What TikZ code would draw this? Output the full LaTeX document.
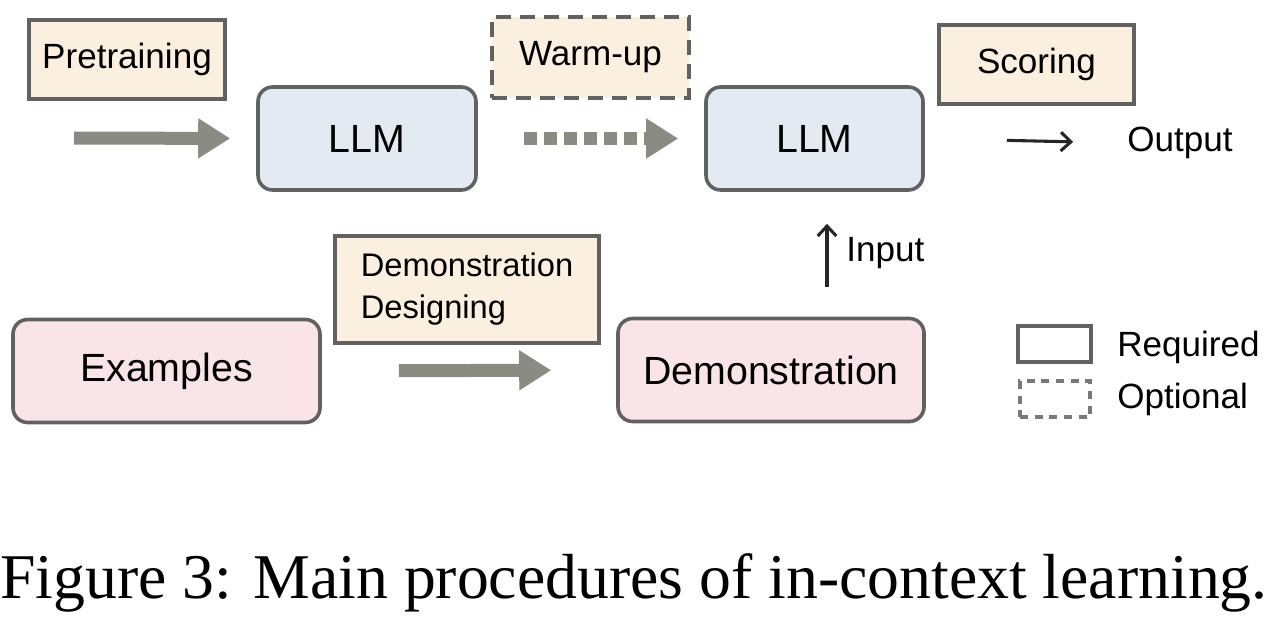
\documentclass[tikz,border=0pt]{standalone}
\usepackage{fontspec}
\setmainfont{Liberation Sans}
\newfontfamily\capfont{Liberation Serif}
\usetikzlibrary{arrows.meta,positioning}
\definecolor{boxline}{HTML}{616161}
\definecolor{stepfill}{HTML}{FBF0DF}
\definecolor{llmfill}{HTML}{E3EAF2}
\definecolor{datafill}{HTML}{F9E4EA}
\definecolor{flowgray}{HTML}{8A8B83}
\begin{document}
\begin{tikzpicture}[x=0.75pt, y=-0.75pt,
  lbl/.style={draw=boxline, line width=2.7pt, fill=stepfill, inner sep=0pt, font=\fontsize{26.3}{31.5}\selectfont},
  fat/.style={draw=flowgray, line width=9.75pt, -{Triangle[length=24pt, width=28.5pt]}},
  thin/.style={draw=black!85, line width=2.3pt, -{Straight Barb[length=7.5pt, width=14pt, line width=2.3pt]}}]
\tikzstyle{blk}=[draw=boxline, line width=2.7pt, rounded corners=11pt, inner sep=0pt, font=\fontsize{29.5}{34}\selectfont]
\useasboundingbox (0,0) rectangle (1280,617);
% top row
\node[lbl, minimum width=147pt, minimum height=59.25pt] (pre) at (127,59.5) {Pretraining};
\node[blk, fill=llmfill, minimum width=163.5pt, minimum height=77.25pt] (llmA) at (367,138.5) {LLM};
\node[lbl, dash pattern=on 11pt off 7pt, minimum width=147.75pt, minimum height=60.75pt] (warm) at (590.5,57.5) {Warm-up};
\node[blk, fill=llmfill, minimum width=162.75pt, minimum height=77.25pt] (llmB) at (814.5,138.5) {LLM};
\node[lbl, minimum width=146.25pt, minimum height=59.25pt] (score) at (1036.5,64.5) {Scoring};
\node[inner sep=3pt, font=\fontsize{26.3}{31.5}\selectfont] (out) at (1180,143) {Output};
% bottom row
\node[blk, fill=datafill, minimum width=230.25pt, minimum height=77.25pt] (ex) at (166.5,371) {Examples};
\node[lbl, align=left, minimum width=198pt, minimum height=80.25pt, font=\fontsize{24.5}{31.5}\selectfont] (design) at (467,289.5) {Demonstration\\Designing};
\node[blk, fill=datafill, minimum width=229.5pt, minimum height=77.25pt] (demo) at (771,370) {Demonstration};
\coordinate (inp) at (827,0);
\node[anchor=west, inner sep=0pt, font=\fontsize{26.3}{31.5}\selectfont] (inlbl) at (846,253) {Input};
% legend
\node[draw=boxline, line width=2.7pt, minimum width=54.75pt, minimum height=27pt, inner sep=0pt] (req) at (1054.5,344) {};
\node[draw=boxline!85, line width=2.7pt, dash pattern=on 6pt off 5pt, minimum width=52.5pt, minimum height=27pt, inner sep=0pt] (opt) at (1055,399) {};
\node[anchor=west, inner sep=0pt, font=\fontsize{26.3}{31.5}\selectfont] (reqlbl) at (1117,347) {Required};
\node[anchor=west, inner sep=0pt, font=\fontsize{26.3}{31.5}\selectfont] (optlbl) at (1117,399) {Optional};
% connectors
\coordinate (start) at (74,138);
\draw[fat, shorten >=19.5pt] (start) -- (llmA.west);
\draw[fat, dash pattern=on 10pt off 5pt, shorten <=34.5pt, shorten >=19.5pt] (llmA.east) -- (llmB.west);
\draw[fat, shorten <=57.75pt, shorten >=48.75pt] (ex.east) -- (demo.west);
\draw[thin, shorten <=22.5pt, shorten >=24pt] (demo.north -| inp) -- (llmB.south -| inp);
\draw[thin, shorten <=61.5pt, shorten >=37.5pt] (llmB.east) -- (out.west);
% caption
\node[anchor=base, inner sep=0pt, font=\capfont\fontsize{47.8}{56}\selectfont] (cap) at (634,598) {Figure 3: Main procedures of in-context learning.};
\end{tikzpicture}
\end{document}
